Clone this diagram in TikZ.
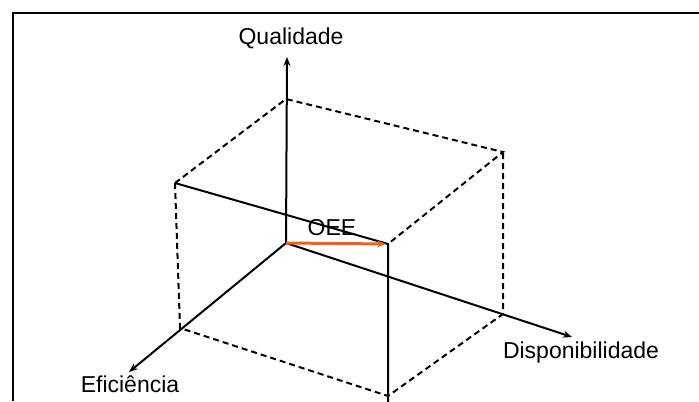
\documentclass[tikz,border=0pt]{standalone}
\usepackage{fontspec}
\setmainfont{Liberation Sans}
\usetikzlibrary{arrows.meta}

\definecolor{oeeorange}{RGB}{242,96,28}

\begin{document}
\begin{tikzpicture}[x=0.5pt,y=-0.5pt,font=\fontsize{11.5}{13}\selectfont,
  >={Stealth[length=4.5pt,width=3.5pt]},
  axis/.style={line width=1pt,->},
  edge/.style={line width=1pt},
  hidden/.style={line width=1pt,dash pattern=on 3pt off 2pt}]
  \useasboundingbox (0,0) rectangle (699,401);
  % frame
  \draw[line width=0.8pt] (13,401) -- (13,13) -- (699,13);
  % cube corners
  \coordinate (O) at (286,243);
  \coordinate (A) at (175,183);
  \coordinate (B) at (286,99);
  \coordinate (C) at (503,152);
  \coordinate (D) at (388,244);
  \coordinate (E) at (180,328);
  \coordinate (G) at (503,314);
  \coordinate (H) at (388,396);
  \coordinate (Hend) at (388,402);
  % axis tips
  \coordinate (qtip) at (287,57);
  \coordinate (etip) at (129,372);
  \coordinate (dtip) at (572,337);
  % labels
  \node[anchor=base] (qual) at (291,45) {Qualidade};
  \node[anchor=base] (disp) at (581,358) {Disponibilidade};
  \node[anchor=base] (efic) at (130,392) {Eficiência};
  % dashed edges
  \draw[hidden] (A) -- (B) -- (C) -- (D);
  \draw[hidden] (A) -- (E) -- (H) -- (G) -- (C);
  % axes
  \draw[axis] (O) -- (qtip);
  \draw[axis] (O) -- (etip);
  \draw[axis] (O) -- (dtip);
  % solid edges
  \draw[edge] (A) -- (D) -- (Hend);
  % OEE vector
  \node[anchor=base] (oee) at (332,235) {OEE};
  \draw[oeeorange,line width=1.5pt,->,shorten >=1pt] (O) -- (D);
\end{tikzpicture}
\end{document}
